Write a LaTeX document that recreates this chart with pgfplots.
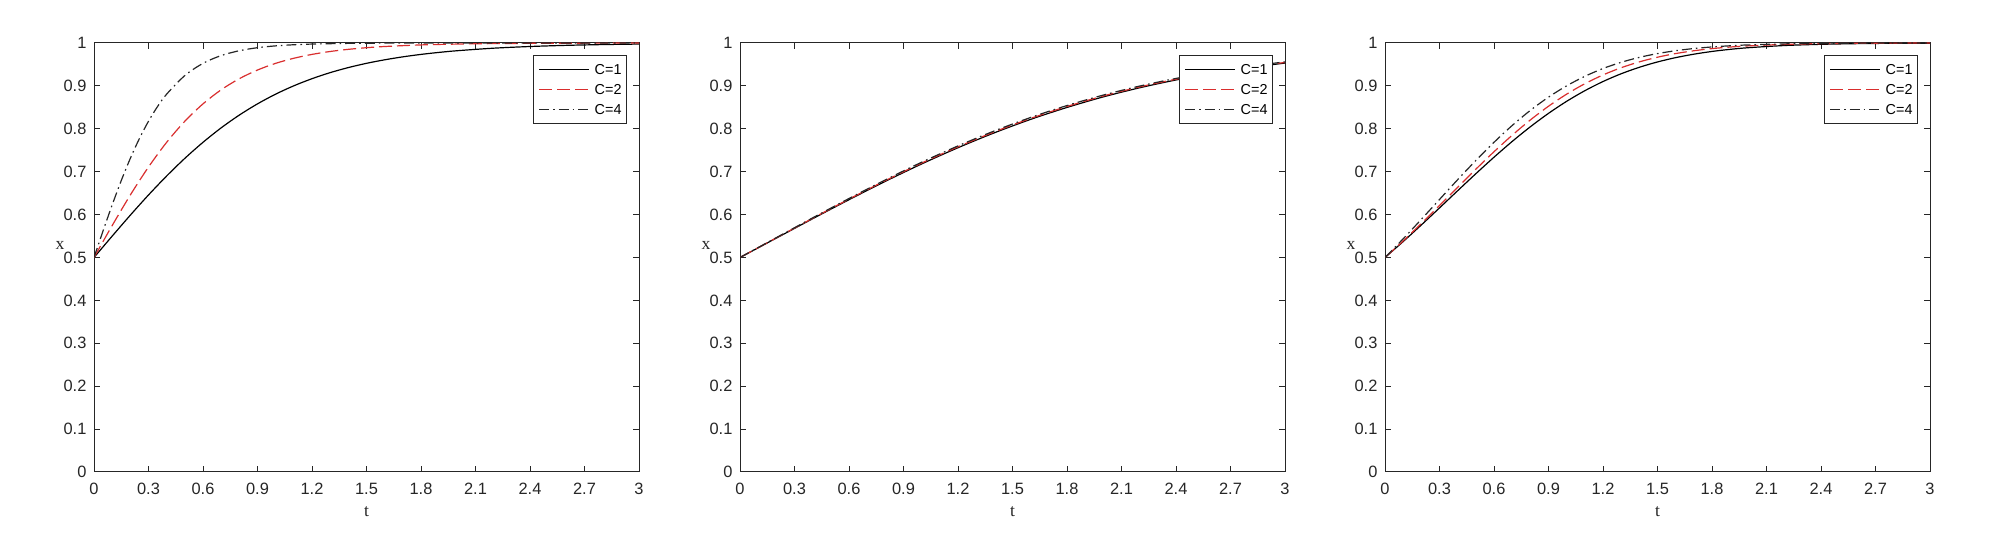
\documentclass[border=0pt]{standalone}
\usepackage{pgfplots}
\pgfplotsset{compat=1.18}
\usepackage{fontspec}
\setmainfont{Liberation Sans}
\newfontfamily\seriffont{Liberation Serif}
\definecolor{axgray}{rgb}{0.15,0.15,0.15}
\definecolor{cred}{rgb}{0.85,0.18,0.18}
\pgfplotsset{
  panel/.style={
    scale only axis, width=272.5pt, height=214.5pt,
    xmin=0, xmax=3, ymin=0, ymax=1,
    xtick={0,0.3,0.6,0.9,1.2,1.5,1.8,2.1,2.4,2.7,3},
    xticklabels={0,0.3,0.6,0.9,1.2,1.5,1.8,2.1,2.4,2.7,3},
    ytick={0,0.1,0.2,0.3,0.4,0.5,0.6,0.7,0.8,0.9,1},
    yticklabels={0,0.1,0.2,0.3,0.4,0.5,0.6,0.7,0.8,0.9,1},
    tick align=inside, major tick length=2.8pt,
    axis line style={axgray, line width=0.5pt},
    every tick/.style={axgray, line width=0.5pt},
    tick label style={font=\fontsize{8.2}{9.5}\selectfont, text=axgray, inner sep=0pt},
    xticklabel shift=5.3pt, yticklabel shift=3.6pt,
    xlabel={t}, ylabel={x},
    xlabel style={at={(axis description cs:0.5,-0.0932)}, anchor=center, inner sep=0pt, font=\seriffont\fontsize{8.8}{10}\selectfont, text=axgray},
    ylabel style={at={(axis description cs:-0.0624,0.527)}, anchor=center, rotate=-90, inner sep=0pt, font=\seriffont\fontsize{8.8}{10}\selectfont, text=axgray},
    legend style={at={(0.978,0.972)}, anchor=north east, draw=axgray, line width=0.5pt,
      inner xsep=2.5pt, inner ysep=2pt, row sep=0pt, column sep=2.5pt,
      font=\fontsize{7.2}{8.5}\selectfont,
      nodes={inner sep=0pt, text height=7.5pt, text depth=2.5pt}},
    legend cell align=left,
    legend image code/.code={\draw[##1] (0pt,0pt) -- (25pt,0pt);},
  },
  cA/.style={black, line width=0.6pt, solid},
  cB/.style={cred, line width=0.6pt, dash pattern=on 6.5pt off 2.5pt},
  cC/.style={black!85, line width=0.6pt, dash pattern=on 5pt off 2pt on 0.8pt off 2pt},
}
\begin{document}
\begin{tikzpicture}
\useasboundingbox (0pt,0pt) rectangle (1000pt,266.5pt);
% ---------------- panel 1 ----------------
\begin{axis}[panel, at={(47pt,30.5pt)}, anchor=south west]
\addplot[cA, smooth] coordinates {(0,0.5)(0.1,0.5498)(0.2,0.5987)(0.3,0.6457)(0.4,0.6900)(0.5,0.7311)(0.6,0.7685)(0.7,0.8022)(0.8,0.8320)(0.9,0.8581)(1.0,0.8808)(1.1,0.9002)(1.2,0.9168)(1.3,0.9309)(1.4,0.9427)(1.5,0.9526)(1.6,0.9608)(1.7,0.9677)(1.8,0.9734)(1.9,0.9781)(2.0,0.9820)(2.2,0.9879)(2.4,0.9918)(2.6,0.9945)(2.8,0.9963)(3.0,0.9975)};
\addlegendentry{C=1}
\addplot[cB, smooth] coordinates {(0,0.5)(0.1,0.5744)(0.2,0.6457)(0.3,0.7109)(0.4,0.7685)(0.5,0.8176)(0.6,0.8581)(0.7,0.8909)(0.8,0.9168)(0.9,0.9370)(1.0,0.9526)(1.1,0.9644)(1.2,0.9734)(1.3,0.9802)(1.4,0.9852)(1.5,0.9890)(1.6,0.9918)(1.8,0.9955)(2.0,0.9975)(2.2,0.9986)(2.5,0.9994)(3.0,0.9999)};
\addlegendentry{C=2}
\addplot[cC, smooth] coordinates {(0,0.5)(0.05,0.5622)(0.1,0.6225)(0.15,0.6792)(0.2,0.7311)(0.25,0.7773)(0.3,0.8176)(0.35,0.8520)(0.4,0.8808)(0.5,0.9241)(0.6,0.9526)(0.7,0.9707)(0.8,0.9820)(0.9,0.9890)(1.0,0.9933)(1.1,0.9959)(1.2,0.9975)(1.4,0.9991)(1.6,0.9997)(2.0,0.9999)(3.0,1.0)};
\addlegendentry{C=4}
\end{axis}
% ---------------- panel 2 ----------------
\begin{axis}[panel, at={(370pt,30.5pt)}, anchor=south west]
\addplot[cA, smooth] coordinates {(0,0.5)(0.2,0.5452)(0.4,0.5904)(0.6,0.6347)(0.8,0.6775)(1.0,0.7181)(1.2,0.7559)(1.4,0.7906)(1.6,0.8220)(1.8,0.8498)(2.0,0.8744)(2.2,0.8956)(2.4,0.9138)(2.6,0.9294)(2.8,0.9424)(3.0,0.9532)};
\addlegendentry{C=1}
\addplot[cB, smooth] coordinates {(0,0.5)(0.2,0.5457)(0.4,0.5914)(0.6,0.6361)(0.8,0.6792)(1.0,0.7201)(1.2,0.7580)(1.4,0.7928)(1.6,0.8242)(1.8,0.8520)(2.0,0.8765)(2.2,0.8976)(2.4,0.9156)(2.6,0.9311)(2.8,0.9439)(3.0,0.9546)};
\addlegendentry{C=2}
\addplot[cC, smooth] coordinates {(0,0.5)(0.2,0.5462)(0.4,0.5924)(0.6,0.6375)(0.8,0.6809)(1.0,0.7221)(1.2,0.7601)(1.4,0.7950)(1.6,0.8264)(1.8,0.8542)(2.0,0.8786)(2.2,0.8996)(2.4,0.9174)(2.6,0.9328)(2.8,0.9454)(3.0,0.9560)};
\addlegendentry{C=4}
\end{axis}
% ---------------- panel 3 ----------------
\begin{axis}[panel, at={(692.5pt,30.5pt)}, anchor=south west]
\addplot[cA, smooth] coordinates {(0,0.5)(0.1,0.5372)(0.2,0.5759)(0.3,0.6156)(0.4,0.6557)(0.5,0.6953)(0.6,0.7338)(0.7,0.7705)(0.8,0.8047)(0.9,0.8360)(1.0,0.8641)(1.1,0.8888)(1.2,0.9102)(1.3,0.9283)(1.4,0.9434)(1.5,0.9558)(1.6,0.9659)(1.7,0.9739)(1.8,0.9803)(1.9,0.9852)(2.0,0.9890)(2.2,0.9941)(2.4,0.9969)(2.6,0.9985)(2.8,0.9993)(3.0,0.9996)};
\addlegendentry{C=1}
\addplot[cB, smooth] coordinates {(0,0.5)(0.1,0.5387)(0.2,0.5793)(0.3,0.6213)(0.4,0.6637)(0.5,0.7058)(0.6,0.7465)(0.7,0.7850)(0.8,0.8206)(0.9,0.8526)(1.0,0.8808)(1.1,0.9051)(1.2,0.9255)(1.3,0.9424)(1.4,0.9560)(1.5,0.9669)(1.6,0.9754)(1.7,0.9819)(1.8,0.9869)(1.9,0.9906)(2.0,0.9933)(2.2,0.9967)(2.4,0.9985)(2.6,0.9993)(2.8,0.9997)(3.0,0.9999)};
\addlegendentry{C=2}
\addplot[cC, smooth] coordinates {(0,0.5)(0.1,0.5436)(0.2,0.5890)(0.3,0.6353)(0.4,0.6814)(0.5,0.7261)(0.6,0.7685)(0.7,0.8077)(0.8,0.8429)(0.9,0.8738)(1.0,0.9002)(1.1,0.9223)(1.2,0.9405)(1.3,0.9550)(1.4,0.9665)(1.5,0.9753)(1.6,0.9820)(1.7,0.9871)(1.8,0.9908)(1.9,0.9935)(2.0,0.9955)(2.2,0.9979)(2.4,0.9991)(2.6,0.9996)(2.8,0.9998)(3.0,0.9999)};
\addlegendentry{C=4}
\end{axis}
\end{tikzpicture}
\end{document}
